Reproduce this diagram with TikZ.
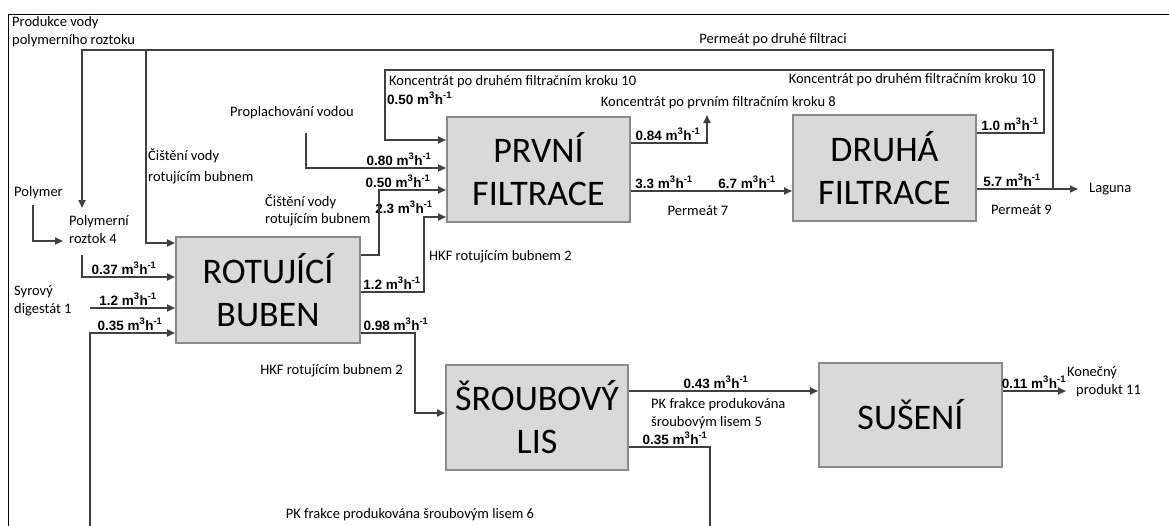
\documentclass[tikz,border=0pt]{standalone}
\usepackage{fontspec}
\setmainfont{Carlito}
\newfontfamily\ratefont{Liberation Sans}
\usetikzlibrary{arrows.meta}
\definecolor{linegray}{HTML}{404040}
\definecolor{boxfill}{HTML}{D9D9D9}
\definecolor{boxline}{HTML}{8A8A8A}
\newcommand{\mh}{m\textsuperscript{3}h\textsuperscript{-1}}
\tikzset{
  unit/.style={draw=boxline,fill=boxfill,line width=2pt,minimum width=183pt,minimum height=105pt,
    inner sep=0pt,align=center,font=\fontsize{36}{43}\selectfont},
  note/.style={inner sep=0pt,align=left,font=\fontsize{14.5}{18}\selectfont},
  rate/.style={inner sep=0pt,anchor=base,font=\ratefont\bfseries\fontsize{13.5}{15}\selectfont},
  pipe/.style={draw=linegray,line width=1.8pt},
  flow/.style={pipe,-{Triangle[length=8pt,width=7pt]}},
}
\begin{document}
\begin{tikzpicture}[x=1pt,y=-1pt,line join=miter]
 \useasboundingbox (0,0) rectangle (1169,525);
 \clip (0,0) rectangle (1169,525);
 \draw[line width=1pt] (8,540) -- (8,14) -- (1180,14);
 % units
 \node[unit,minimum width=184pt,minimum height=106pt] (rb) at (268,290) {ROTUJÍCÍ\\BUBEN};
 \node[unit] (pf) at (538.5,169.5) {PRVNÍ\\FILTRACE};
 \node[unit,minimum height=106pt] (df) at (884.5,168) {DRUHÁ\\FILTRACE};
 \node[unit,minimum width=182pt] (sl) at (537,417.5) {ŠROUBOVÝ\\LIS};
 \node[unit,minimum height=104pt] (su) at (910.5,415) {SUŠENÍ};
 % texts
 \node[note,anchor=west] (prod) at (12,32) {Produkce vody\\polymerního roztoku};
 \node[note] (perm2) at (773,40) {Permeát po druhé filtraci};
 \node[note,anchor=west,font=\fontsize{14.5}{21}\selectfont] (cist1) at (148,166) {Čištění vody\\rotujícím bubnem};
 \node[note,anchor=west] (polym) at (14,193) {Polymer};
 \node[note,anchor=west] (rozt) at (69,230) {Polymerní\\roztok 4};
 \node[note,anchor=west] (syr) at (14,301) {Syrový\\digestát 1};
 \node[note] (propl) at (292,113) {Proplachování vodou};
 \node[note,anchor=west] (kon10a) at (389,82) {Koncentrát po druhém filtračním kroku 10};
 \node[note,anchor=east] (kon10b) at (1036,80) {Koncentrát po druhém filtračním kroku 10};
 \node[note,anchor=east] (kon8) at (836,103) {Koncentrát po prvním filtračním kroku 8};
 \node[note,anchor=west,font=\fontsize{14.5}{17}\selectfont] (cist2) at (265,210) {Čištění vody\\rotujícím bubnem};
 \node[note,anchor=west] (hkf1) at (429,257) {HKF rotujícím bubnem 2};
 \node[note,anchor=east] (hkf2) at (403,371) {HKF rotujícím bubnem 2};
 \node[note] (perm7) at (698,211) {Permeát 7};
 \node[note,anchor=west] (perm9) at (991,210) {Permeát 9};
 \node[note,anchor=west] (lag) at (1089,189) {Laguna};
 \node[note,anchor=west] (pk5) at (651,414) {PK frakce produkována\\šroubovým lisem 5};
 \node[note] (pk6) at (410,515) {PK frakce produkována šroubovým lisem 6};
 \node[note,anchor=west] (kon) at (1067,382) {Konečný\\\hspace*{9pt}produkt 11};
 % rates
 \node[rate] (r1) at (124,274) {0.37 \mh};
 \node[rate] (r2) at (128,305) {1.2 \mh};
 \node[rate] (r3) at (130,330) {0.35 \mh};
 \node[rate] (r4) at (399,165) {0.80 \mh};
 \node[rate] (r5) at (398,187) {0.50 \mh};
 \node[rate] (r6) at (404,213) {2.3 \mh};
 \node[rate] (r7) at (392,289) {1.2 \mh};
 \node[rate] (r8) at (396,330) {0.98 \mh};
 \node[rate,anchor=base west] (r9) at (387,104) {0.50 \mh};
 \node[rate] (r10) at (668,140) {0.84 \mh};
 \node[rate] (r11) at (664,188) {3.3 \mh};
 \node[rate] (r12) at (747,188) {6.7 \mh};
 \node[rate] (r13) at (1010,130) {1.0 \mh};
 \node[rate] (r14) at (1012,186) {5.7 \mh};
 \node[rate] (r15) at (716,388) {0.43 \mh};
 \node[rate] (r16) at (675,444) {0.35 \mh};
 \node[rate] (r17) at (1034,388) {0.11 \mh};
 % bends
 \coordinate (lg) at (1053,189); \coordinate (t1) at (1053,50);
 \coordinate (t2) at (82,50);    \coordinate (t3) at (146,50);
 \coordinate (pa) at (82,208);   \coordinate (c1) at (146,243);
 \coordinate (p1) at (33,205);   \coordinate (p3) at (63,241);
 \coordinate (q1) at (82,255);   \coordinate (q2) at (82,277);
 \coordinate (s1) at (90,308);
 \coordinate (b1) at (90,540);   \coordinate (b2) at (90,333);
 \coordinate (w1) at (306,133);  \coordinate (w2) at (306,168);
 \coordinate (k1) at (1044,133); \coordinate (k2) at (1044,70);
 \coordinate (k3) at (385,70);   \coordinate (k4) at (385,140);
 \coordinate (j1) at (379,255);  \coordinate (j2) at (379,190);
 \coordinate (h1) at (424,292);  \coordinate (h2) at (424,217);
 \coordinate (d1) at (415,333);  \coordinate (d2) at (415,413);
 \coordinate (e1) at (707,143);  \coordinate (e2) at (707,115);
 \coordinate (m1) at (700,191);  \coordinate (lend) at (1078,189);
 \coordinate (n1) at (700,391);  \coordinate (kend) at (1066,391);
 \coordinate (o1) at (710,447);  \coordinate (o2) at (710,540);
 % flows
 \draw[flow] (lg) -- (t1) -- (t2) -- (pa);
 \draw[flow] (t3) -- (c1) -- (rb.west |- c1);
 \draw[flow] (p1) |- (p3);
 \draw[flow] (q1) -- (q2) -- (rb.west |- q2);
 \draw[flow] (s1) -- (rb.west |- s1);
 \draw[flow] (b1) -- (b2) -- (rb.west |- b2);
 \draw[flow] (w1) -- (w2) -- (pf.west |- w2);
 \draw[flow] (df.east |- k1) -- (k1) -- (k2) -- (k3) -- (k4) -- (pf.west |- k4);
 \draw[flow] (rb.east |- j1) -- (j1) -- (j2) -- (pf.west |- j2);
 \draw[flow] (rb.east |- h1) -- (h1) -- (h2) -- (pf.west |- h2);
 \draw[flow] (rb.east |- d1) -- (d1) -- (d2) -- (sl.west |- d2);
 \draw[flow] (pf.east |- e1) -- (e1) -- (e2);
 \draw[flow] (pf.east |- m1) -- (df.west |- m1);
 \draw[flow] (df.east |- lg) -- (lend);
 \draw[flow] (sl.east |- n1) -- (su.west |- n1);
 \draw[flow] (su.east |- n1) -- (kend);
 \draw[pipe] (sl.east |- o1) -- (o1) -- (o2);
\end{tikzpicture}
\end{document}
